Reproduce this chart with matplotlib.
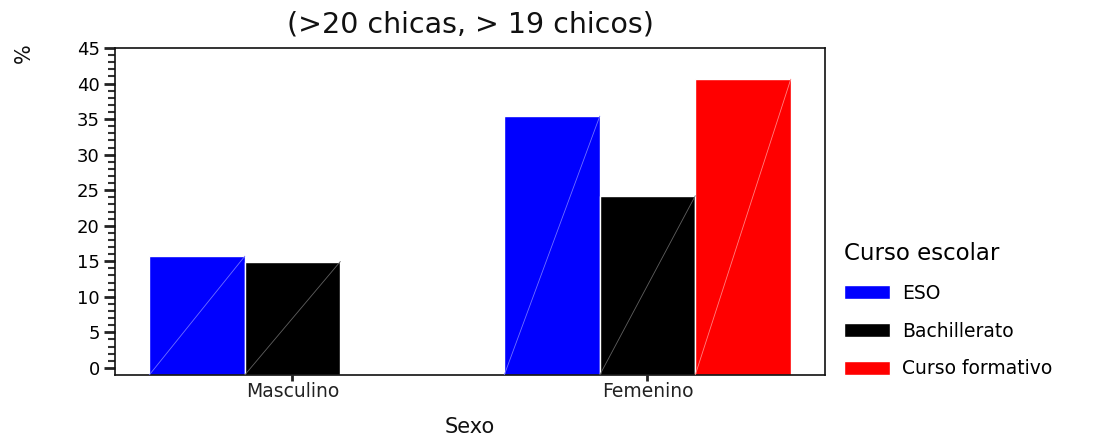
import numpy as np
import matplotlib
matplotlib.use("Agg")
import matplotlib.pyplot as plt
from matplotlib.patches import Rectangle
from matplotlib.lines import Line2D
from matplotlib.legend_handler import HandlerPatch

categories = ["Masculino", "Femenino"]
series_names = ["ESO", "Bachillerato", "Curso formativo"]
eso = [15.7, 35.4]
bachillerato = [14.95, 24.2]
curso_formativo = [np.nan, 40.6]
series_values = [eso, bachillerato, curso_formativo]
colors = ["#0000ff", "#000000", "#ff0000"]
diag_colors = ["#7070ff", "#606060", "#ff8080"]
yticks = [0, 5, 10, 15, 20, 25, 30, 35, 40, 45]

plt.rcParams['font.family'] = ['DejaVu Sans']

fig = plt.figure(figsize=(10.93, 4.36), dpi=100)
ax = fig.add_axes([0.1052, 0.1399, 0.6496, 0.7500])

baseline = -1.0
x = np.arange(len(categories))
offset = 0.269
for i, (name, vals, c, dc) in enumerate(zip(series_names, series_values, colors, diag_colors)):
    v = np.array(vals, dtype=float)
    bars = ax.bar(x + (i - 1) * offset, v - baseline, bottom=baseline, width=offset,
                  color=c, edgecolor="white", linewidth=1.0, label=name, zorder=2)
    for p in bars.patches:
        if np.isnan(p.get_height()):
            continue
        x0, y0 = p.get_x(), p.get_y()
        ax.plot([x0, x0 + p.get_width()], [y0, y0 + p.get_height()],
                color=dc, lw=0.6, zorder=3)

ax.set_xlim(-0.5, 1.5)
ax.set_ylim(baseline, 45)
ax.set_yticks(yticks)
ax.set_yticks(np.arange(0, 46, 1), minor=True)
ax.set_xticks(x)
ax.set_xticklabels(categories, fontsize=13.5, color="#222222")
ax.tick_params(axis="y", which="major", length=8, width=2, labelsize=13, pad=3, color="#222222")
ax.tick_params(axis="y", which="minor", length=5, width=1.5, color="#333333")
ax.tick_params(axis="x", which="major", length=4, width=2, pad=1, color="#222222")
for s in ax.spines.values():
    s.set_linewidth(1.2)
    s.set_color("#111111")

ax.set_title("(>20 chicas, > 19 chicos)", fontsize=20.5, pad=11, color="#111111")
ax.set_xlabel("Sexo", fontsize=15, color="#111111")
ax.xaxis.set_label_coords(0.5, -0.128)
ax.set_ylabel("%", fontsize=15, rotation=90, color="#111111")
ax.yaxis.set_label_coords(-0.114, 0.985)


class DiagHandler(HandlerPatch):
    def create_artists(self, legend, orig_handle, xdescent, ydescent, width, height, fontsize, trans):
        r = Rectangle((-xdescent, -ydescent), width, height,
                      facecolor=orig_handle.get_facecolor(), edgecolor="none", transform=trans)
        idx = colors.index(matplotlib.colors.to_hex(orig_handle.get_facecolor()))
        ln = Line2D([-xdescent, -xdescent + width], [-ydescent, -ydescent + height],
                    color=diag_colors[idx], lw=0.6, transform=trans)
        return [r, ln]


handles, labels = ax.get_legend_handles_labels()
leg = fig.legend(handles, labels, loc="upper left", bbox_to_anchor=(0.765, 0.462),
                 bbox_transform=fig.transFigure,
                 title="Curso escolar", title_fontsize=16.5, fontsize=13.5, frameon=False,
                 handlelength=2.45, handleheight=0.75, labelspacing=1.0, handletextpad=0.65,
                 borderaxespad=0, handler_map={Rectangle: DiagHandler()})
leg._legend_box.align = "left"

fig.savefig("out.png", dpi=100)
